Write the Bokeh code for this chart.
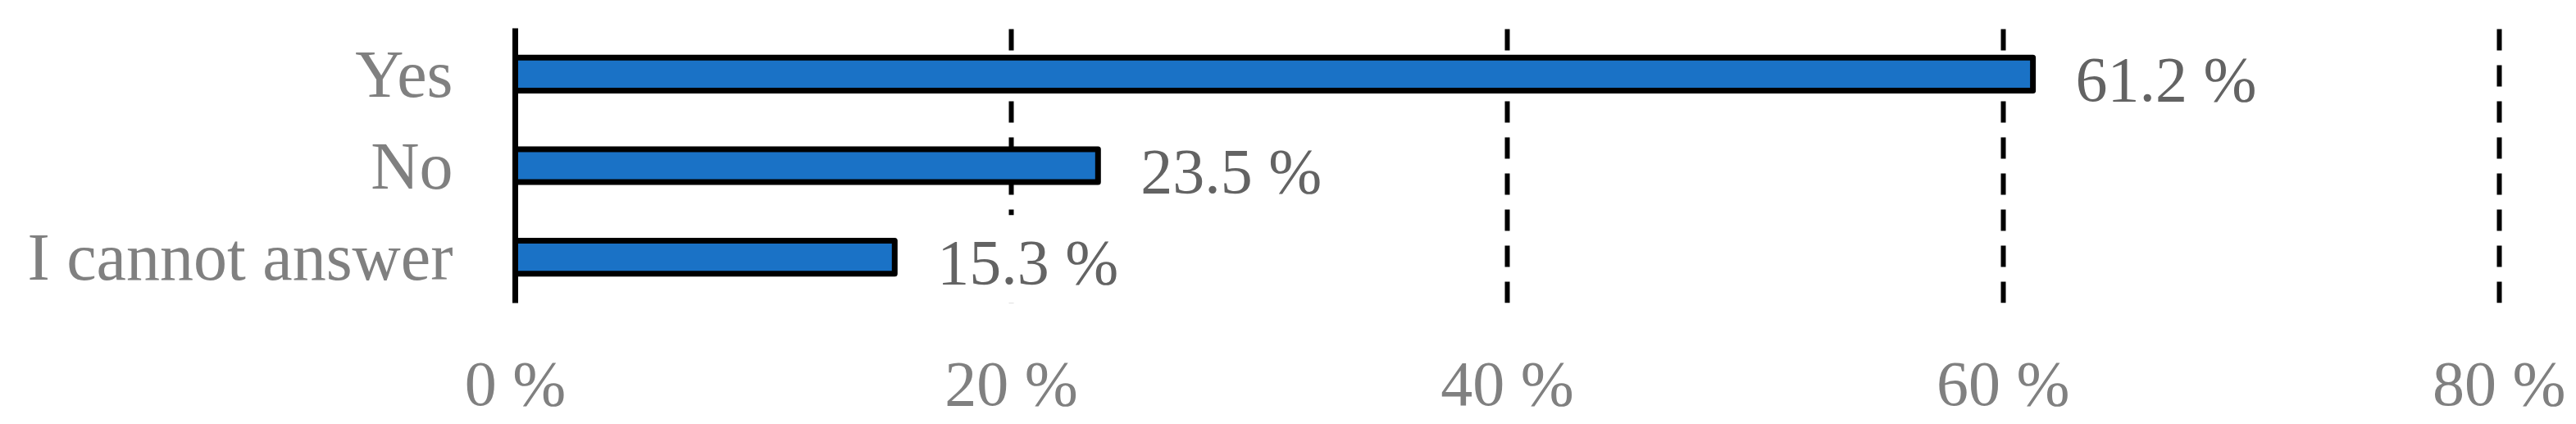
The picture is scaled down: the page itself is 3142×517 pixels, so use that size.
from bokeh.plotting import figure
from bokeh.models import FactorRange, Range1d, FixedTicker, PrintfTickFormatter, ColumnDataSource
from bokeh.core.properties import value
from bokeh.embed import file_html
from bokeh.resources import INLINE

# Data
categories = ["Yes", "No", "I cannot answer"]
percentages = [61.2, 23.5, 15.3]
value_labels = ["61.2 %", "23.5 %", "15.3 %"]
x_ticks = [0, 20, 40, 60, 80]

FONT = "Liberation Serif"

p = figure(
    frame_width=2450, frame_height=335,
    y_range=FactorRange(factors=list(reversed(categories)), range_padding=0),
    x_range=Range1d(0, 81),
    output_backend="svg", toolbar_location=None,
    min_border_left=628, min_border_right=56,
    min_border_top=34, min_border_bottom=140,
)
p.outline_line_color = None
p.background_fill_color = "white"
p.border_fill_color = "white"

src = ColumnDataSource(dict(cat=categories, val=percentages, lab=value_labels))

p.hbar(y="cat", left=0, right="val", height=0.36, source=src,
       fill_color="#1a72c6", line_color="black", line_width=7, line_join="round")

p.text(x="val", y="cat", text="lab", source=src, x_offset=38, y_offset=6,
       text_align="left", text_baseline="middle",
       text_font=value(FONT), text_font_size="78px", text_color="#636363",
       background_fill_color="white", padding=14)

# grid
p.ygrid.grid_line_color = None
p.xgrid.ticker = FixedTicker(ticks=[20, 40, 60, 80])
p.xgrid.grid_line_color = "black"
p.xgrid.grid_line_width = 6
p.xgrid.grid_line_dash = "26 18"

# x axis
xa = p.xaxis[0]
xa.ticker = FixedTicker(ticks=x_ticks)
xa.formatter = PrintfTickFormatter(format="%d %%")
xa.axis_line_color = None
xa.major_tick_line_color = None
xa.minor_tick_line_color = None
xa.major_tick_out = 0
xa.major_tick_in = 0
xa.major_label_standoff = 54
xa.major_label_text_font = FONT
xa.major_label_text_font_size = "78px"
xa.major_label_text_color = "#808080"

# y axis
ya = p.yaxis[0]
ya.axis_line_color = "black"
ya.axis_line_width = 7
ya.major_tick_line_color = None
ya.minor_tick_line_color = None
ya.major_tick_out = 0
ya.major_tick_in = 0
ya.major_label_standoff = 76
ya.major_label_text_font = FONT
ya.major_label_text_font_size = "82px"
ya.major_label_text_color = "#808080"

open("out.html", "w").write(file_html(p, INLINE))
